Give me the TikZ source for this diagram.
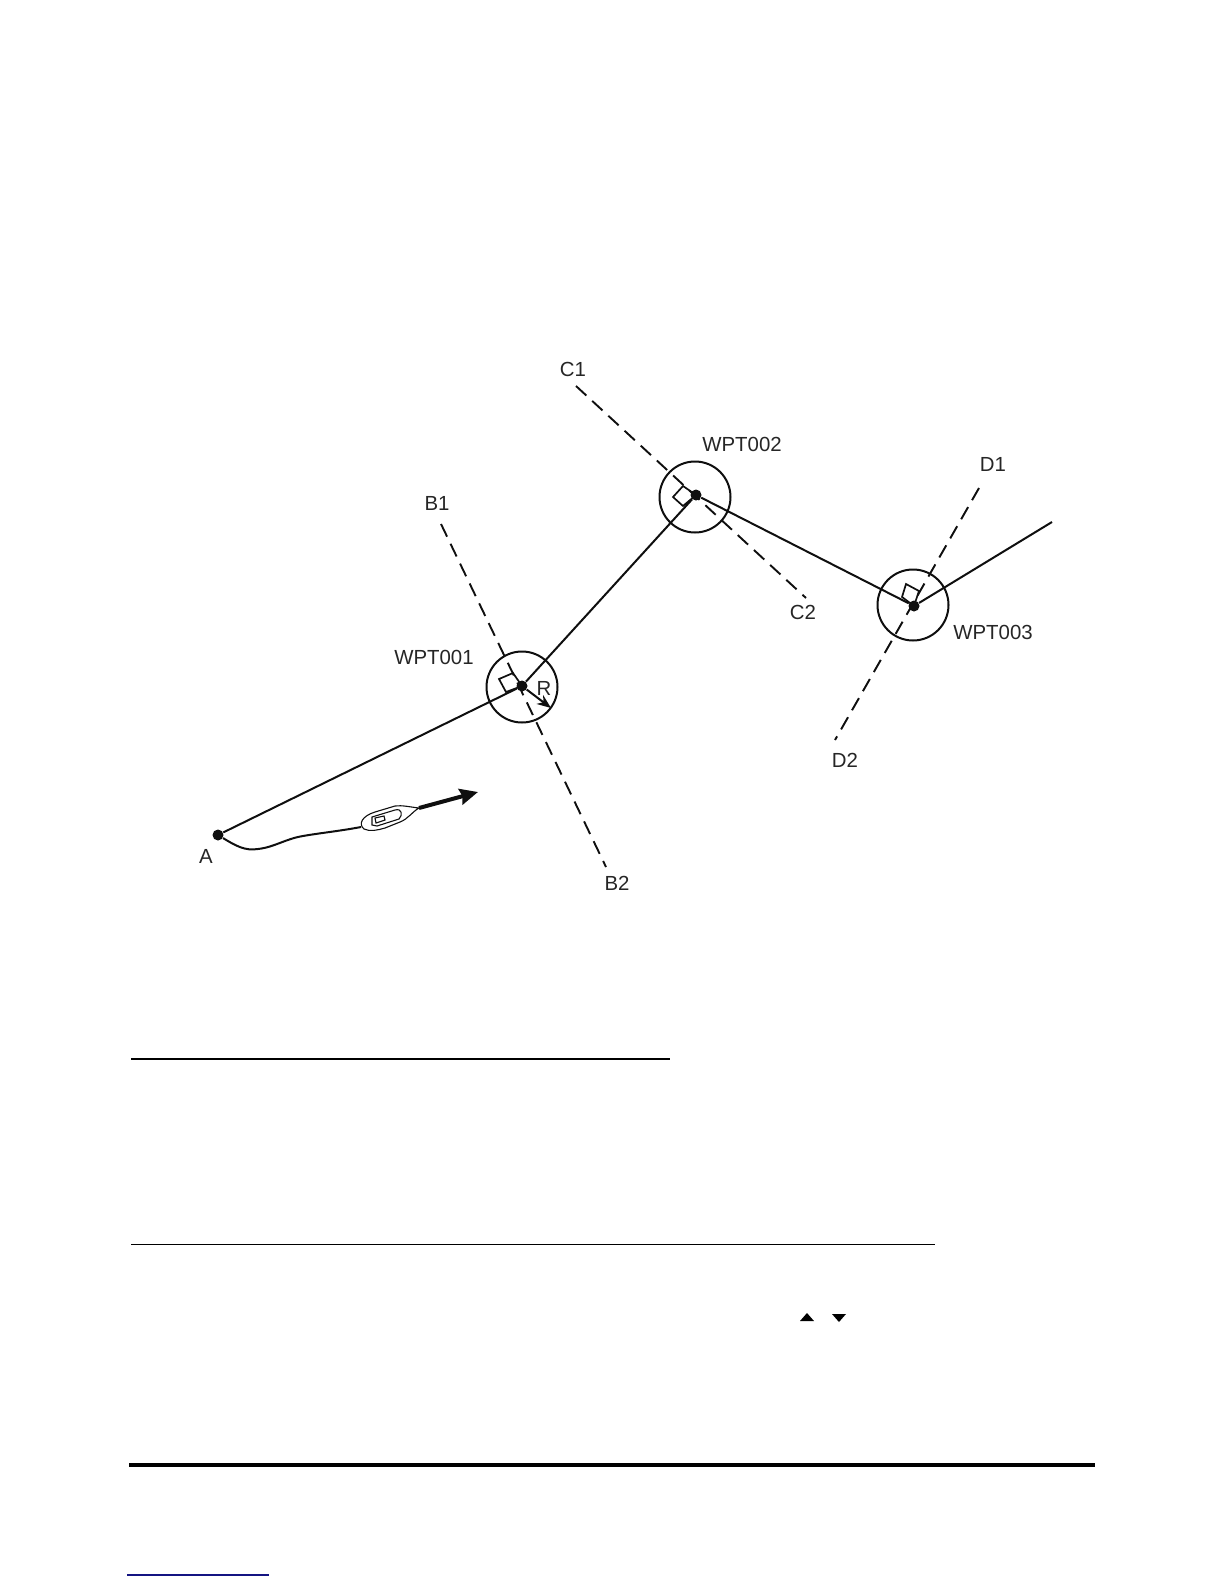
\documentclass[tikz,border=0pt]{standalone}
\usepackage{fontspec}
\setmainfont{Liberation Sans}
\usepackage{tikz}
\usetikzlibrary{arrows.meta}
\definecolor{routeblack}{RGB}{15,15,15}
\definecolor{linkblue}{RGB}{20,20,130}

\begin{document}
\begin{tikzpicture}[
  x=0.5pt,y=-0.5pt,
  wpt/.style={circle,fill=routeblack,inner sep=0pt,minimum size=5.5pt},
  zone/.style={circle,draw=routeblack,line width=1pt,inner sep=0pt,minimum size=35.5pt},
  leg/.style={draw=routeblack,line width=1pt},
  gate/.style={draw=routeblack,line width=0.95pt,dash pattern=on 7pt off 4pt},
  corner/.style={draw=routeblack,line width=0.85pt},
  lbl/.style={font=\fontsize{10.2}{12}\selectfont,text=black!85,inner sep=0pt},
  rulebar/.style={draw=black}
]
\useasboundingbox (0,0) rectangle (1224,1584);

% Waypoints and arrival circles
\node[wpt] (a) at (218,835) {};
\node[wpt] (w1) at (522,686) {};
\node[wpt] (w2) at (696,495) {};
\node[wpt] (w3) at (914,606) {};
\node[zone] (z1) at (522,687) {};
\node[zone] (z2) at (695,497) {};
\node[zone] (z3) at (913,605) {};
\coordinate (onward) at (1052,522);

% Route legs
\draw[leg] (a) -- (w1);
\draw[leg] (w1) -- (w2);
\draw[leg] (w2) -- (w3);
\draw[leg] (w3) -- (onward);

% Gate lines
\coordinate (b1) at (441,524);
\coordinate (b2) at (606,867);
\coordinate (c1) at (576,386);
\coordinate (c2) at (806,598);
\coordinate (d1) at (979,488);
\coordinate (d2) at (835,740);
\draw[gate] (b1) -- (b2);
\draw[gate] (c1) -- (c2);
\draw[gate] (d1) -- (d2);

% Right angle marks
\draw[corner] (w1.center) -- (506,692) -- (499,679) -- (513,673) -- cycle;
\draw[corner] (w2.center) -- (683,486) -- (673,497) -- (683,506) -- cycle;
\draw[corner] (w3.center) -- (902,597) -- (906,584) -- (919,591) -- cycle;

% Arrival radius
\coordinate (rtip) at (551,708);
\draw[leg,-{Stealth[length=7pt,width=5.5pt]}] (w1) -- (rtip);

% Track and vessel
\coordinate (stern) at (361,827);
\coordinate (bow) at (419,808);
\coordinate (head) at (478,792);
\draw[routeblack,line width=1pt] (a) .. controls (236,846) and (245,851) .. (258,849)
  .. controls (275,847) and (285,839) .. (303,836)
  .. controls (320,833) and (340,831) .. (stern);
\draw[routeblack,line width=0.55pt] (bow) .. controls (410,807) and (402,805) .. (395,806)
  -- (375,812) .. controls (362,816) and (358,824) .. (364,829)
  .. controls (370,832) and (378,830) .. (385,828) -- (400,822)
  .. controls (408,819) and (412,812) .. (bow);
\draw[routeblack,line width=0.55pt] (372,817) -- (395,810) .. controls (402,808) and (403,815) .. (399,819)
  -- (377,826) -- (372,825) -- cycle;
\draw[routeblack,line width=0.55pt] (375,818) -- (384,816) -- (385,820) -- (376,823) -- cycle;
\draw[routeblack,line width=2pt,-{Stealth[length=9pt,width=8pt,inset=1pt]}] (bow) -- (head);

% Labels
\node[lbl] (lc1) at (573,369) {C1};
\node[lbl] (lw2) at (742,444) {WPT002};
\node[lbl] (ld1) at (993,464) {D1};
\node[lbl] (lb1) at (437,503) {B1};
\node[lbl] (lc2) at (803,612) {C2};
\node[lbl] (lw3) at (993,632) {WPT003};
\node[lbl] (lw1) at (434,657) {WPT001};
\node[lbl] (lr) at (544,688) {R};
\node[lbl] (ld2) at (845,760) {D2};
\node[lbl] (la) at (206,856) {A};
\node[lbl] (lb2) at (617,883) {B2};

% Page rules
\coordinate (r1a) at (131,1059);
\coordinate (r1b) at (670,1059);
\coordinate (r2a) at (131,1244);
\coordinate (r2b) at (935,1244);
\coordinate (r3a) at (129,1465);
\coordinate (r3b) at (1095,1465);
\coordinate (r4a) at (127,1575);
\coordinate (r4b) at (269,1575);
\draw[rulebar,line width=1pt] (r1a) -- (r1b);
\draw[rulebar,line width=0.5pt] (r2a) -- (r2b);
\draw[rulebar,line width=1.6pt] (r3a) -- (r3b);
\draw[linkblue,line width=0.6pt] (r4a) -- (r4b);

% Small key arrows
\fill[black] (800,1321) -- (807,1313) -- (814,1321) -- cycle;
\fill[black] (832,1314) -- (846,1314) -- (839,1322) -- cycle;
\end{tikzpicture}
\end{document}
